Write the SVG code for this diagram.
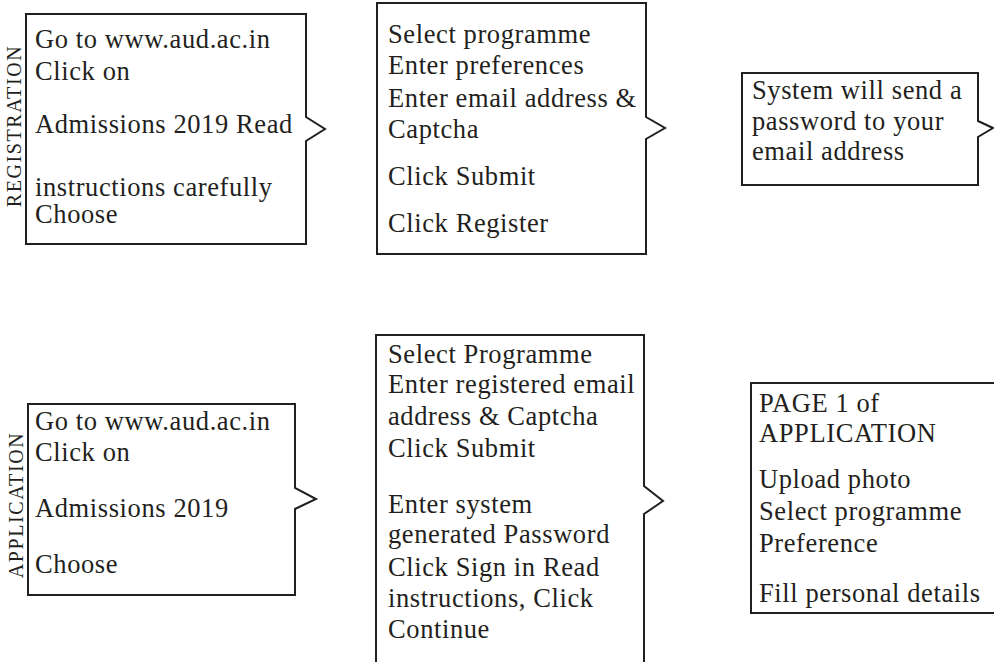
<svg xmlns="http://www.w3.org/2000/svg" width="994" height="662" viewBox="0 0 994 662">
<style>
.box{fill:#fff;stroke:#231f20;stroke-width:2;stroke-linejoin:miter}
.t{font-family:"Liberation Serif","Times New Roman",serif;font-size:26.5px;letter-spacing:0.6px;fill:#231f20}
.v{font-family:"Liberation Serif","Times New Roman",serif;font-size:20px;letter-spacing:1.6px;fill:#231f20;text-anchor:middle}
</style>
<rect width="994" height="662" fill="#fff"/>
<g id="connectors"></g>
<g id="reg1">
<path class="box" d="M26,14 H306 V117 L325,129 L306,141 V244 H26 Z"/>
<text class="v" transform="translate(21,126) rotate(-90)">REGISTRATION</text>
<text class="t" x="35" y="48">Go to www.aud.ac.in</text>
<text class="t" x="35" y="80">Click on</text>
<text class="t" x="35" y="133">Admissions 2019 Read</text>
<text class="t" x="35" y="196">instructions carefully</text>
<text class="t" x="35" y="223">Choose</text>
</g>
<g id="reg2">
<path class="box" d="M377,3 H646 V117 L665,128 L646,139 V254 H377 Z"/>
<text class="t" x="388" y="43">Select programme</text>
<text class="t" x="388" y="74">Enter preferences</text>
<text class="t" x="388" y="107">Enter email address &amp;</text>
<text class="t" x="388" y="138">Captcha</text>
<text class="t" x="388" y="185">Click Submit</text>
<text class="t" x="388" y="232">Click Register</text>
</g>
<g id="reg3">
<path class="box" d="M742,73 H978 V121 L993,128 L978,137 V185 H742 Z"/>
<text class="t" x="752" y="99">System will send a</text>
<text class="t" x="752" y="130">password to your</text>
<text class="t" x="752" y="160">email address</text>
</g>
<g id="app1">
<path class="box" d="M28,404 H295 V488 L316,499 L295,509 V595 H28 Z"/>
<text class="v" transform="translate(23,505) rotate(-90)">APPLICATION</text>
<text class="t" x="35" y="430">Go to www.aud.ac.in</text>
<text class="t" x="35" y="461">Click on</text>
<text class="t" x="35" y="517">Admissions 2019</text>
<text class="t" x="35" y="573">Choose</text>
</g>
<g id="app2">
<path class="box" d="M376,672 V335 H644 V486 L663,501 L644,514 V672"/>
<text class="t" x="388" y="363">Select Programme</text>
<text class="t" x="388" y="393">Enter registered email</text>
<text class="t" x="388" y="425">address &amp; Captcha</text>
<text class="t" x="388" y="457">Click Submit</text>
<text class="t" x="388" y="513">Enter system</text>
<text class="t" x="388" y="543">generated Password</text>
<text class="t" x="388" y="576">Click Sign in Read</text>
<text class="t" x="388" y="607">instructions, Click</text>
<text class="t" x="388" y="638">Continue</text>
</g>
<g id="app3">
<path class="box" d="M1000,383 H751 V613 H1000"/>
<text class="t" x="759" y="412">PAGE 1 of</text>
<text class="t" x="759" y="442">APPLICATION</text>
<text class="t" x="759" y="488">Upload photo</text>
<text class="t" x="759" y="520">Select programme</text>
<text class="t" x="759" y="552">Preference</text>
<text class="t" x="759" y="602">Fill personal details</text>
</g>
</svg>
